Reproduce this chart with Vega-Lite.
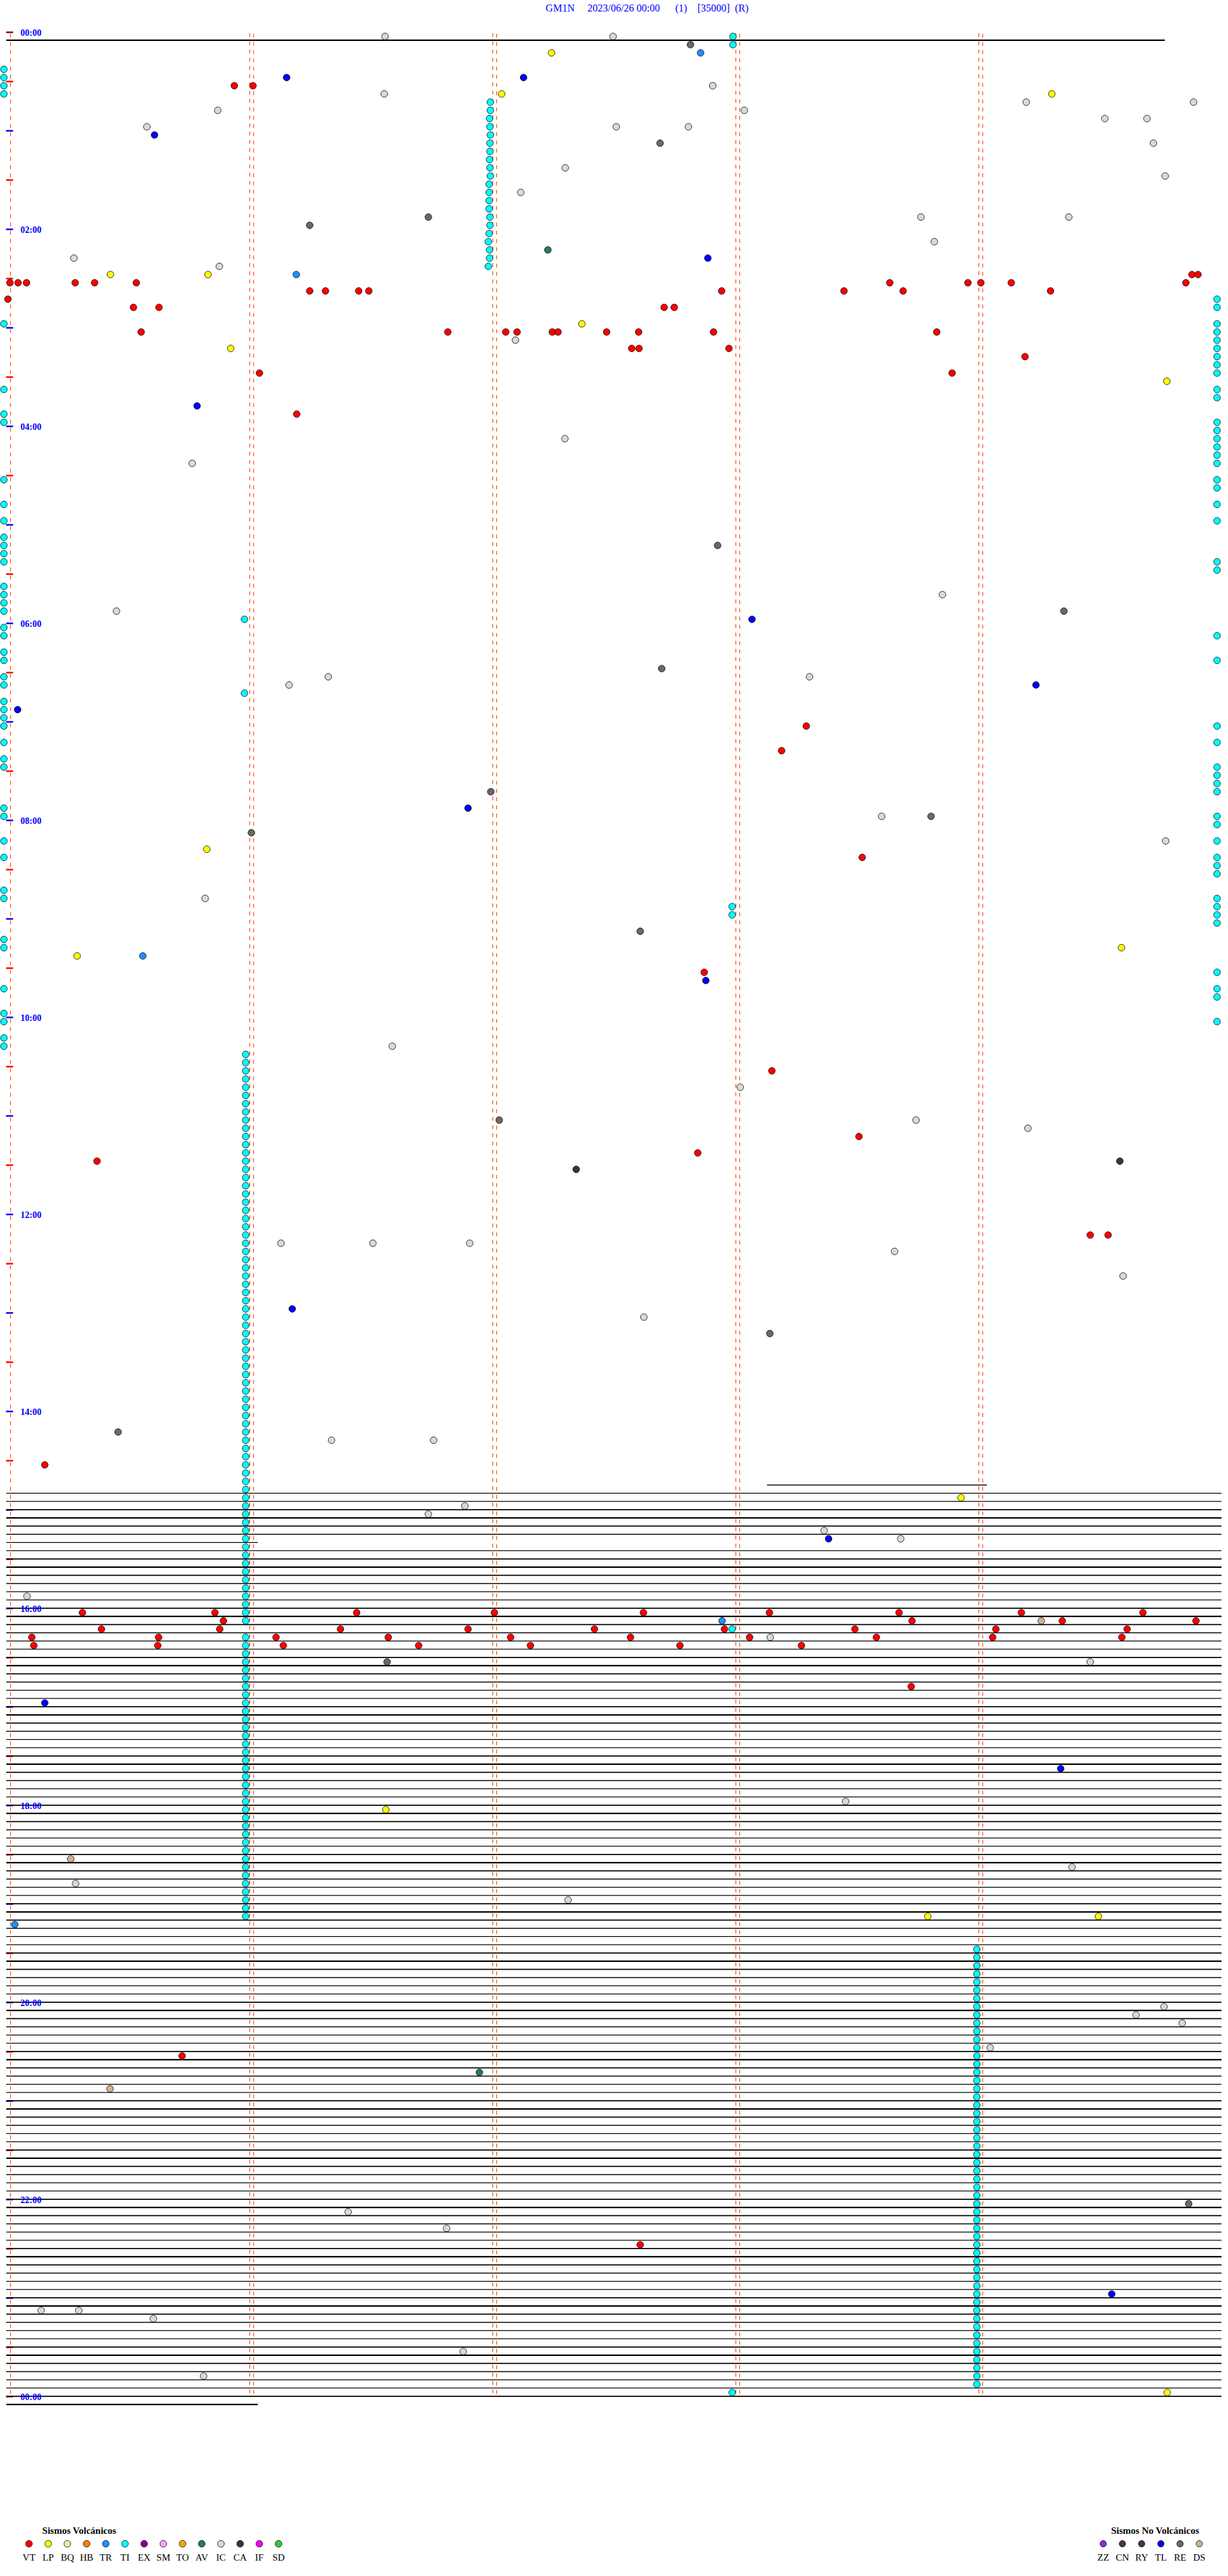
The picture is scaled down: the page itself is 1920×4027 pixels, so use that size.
{
"$schema": "https://vega.github.io/schema/vega-lite/v6.json",
"autosize": "none",
"width": 1900,
"height": 3696,
"padding": {"left": 13, "top": 50, "right": 7, "bottom": 281},
"background": "white",
"config": {"view": {"stroke": null}},
"datasets": {
"tr": [
{"r":1,"a":-0.5,"b":285.5,"k":"k"},
{"r":177,"a":187.3,"b":241.6,"k":"t"},
{"r":178,"a":-0.5,"b":299.5,"k":"t"},{"r":179,"a":-0.5,"b":299.5,"k":"t"},{"r":180,"a":-0.5,"b":299.5,"k":"n"},{"r":181,"a":-0.5,"b":299.5,"k":"k"},{"r":182,"a":-0.5,"b":299.5,"k":"n"},{"r":183,"a":-0.5,"b":299.5,"k":"t"},
{"r":184,"a":-0.5,"b":61.6,"k":"t"},{"r":185,"a":-0.5,"b":299.5,"k":"t"},{"r":186,"a":-0.5,"b":299.5,"k":"n"},{"r":187,"a":-0.5,"b":299.5,"k":"k"},{"r":188,"a":-0.5,"b":299.5,"k":"n"},{"r":189,"a":-0.5,"b":299.5,"k":"t"},
{"r":190,"a":-0.5,"b":299.5,"k":"t"},{"r":191,"a":-0.5,"b":299.5,"k":"t"},{"r":192,"a":-0.5,"b":299.5,"k":"n"},{"r":193,"a":-0.5,"b":299.5,"k":"k"},{"r":194,"a":-0.5,"b":299.5,"k":"n"},{"r":195,"a":-0.5,"b":299.5,"k":"t"},
{"r":196,"a":-0.5,"b":299.5,"k":"t"},{"r":197,"a":-0.5,"b":299.5,"k":"t"},{"r":198,"a":-0.5,"b":299.5,"k":"n"},{"r":199,"a":-0.5,"b":299.5,"k":"k"},{"r":200,"a":-0.5,"b":299.5,"k":"n"},{"r":201,"a":-0.5,"b":299.5,"k":"t"},
{"r":202,"a":-0.5,"b":299.5,"k":"t"},{"r":203,"a":-0.5,"b":299.5,"k":"t"},{"r":204,"a":-0.5,"b":299.5,"k":"n"},{"r":205,"a":-0.5,"b":299.5,"k":"k"},{"r":206,"a":-0.5,"b":299.5,"k":"n"},{"r":207,"a":-0.5,"b":299.5,"k":"t"},
{"r":208,"a":-0.5,"b":299.5,"k":"t"},{"r":209,"a":-0.5,"b":299.5,"k":"t"},{"r":210,"a":-0.5,"b":299.5,"k":"n"},{"r":211,"a":-0.5,"b":299.5,"k":"k"},{"r":212,"a":-0.5,"b":299.5,"k":"n"},{"r":213,"a":-0.5,"b":299.5,"k":"t"},
{"r":214,"a":-0.5,"b":299.5,"k":"t"},{"r":215,"a":-0.5,"b":299.5,"k":"t"},{"r":216,"a":-0.5,"b":299.5,"k":"n"},{"r":217,"a":-0.5,"b":299.5,"k":"k"},{"r":218,"a":-0.5,"b":299.5,"k":"n"},{"r":219,"a":-0.5,"b":299.5,"k":"t"},
{"r":220,"a":-0.5,"b":299.5,"k":"t"},{"r":221,"a":-0.5,"b":299.5,"k":"t"},{"r":222,"a":-0.5,"b":299.5,"k":"n"},{"r":223,"a":-0.5,"b":299.5,"k":"k"},{"r":224,"a":-0.5,"b":299.5,"k":"n"},{"r":225,"a":-0.5,"b":299.5,"k":"t"},
{"r":226,"a":-0.5,"b":299.5,"k":"t"},{"r":227,"a":-0.5,"b":299.5,"k":"t"},{"r":228,"a":-0.5,"b":299.5,"k":"n"},{"r":229,"a":-0.5,"b":299.5,"k":"k"},{"r":230,"a":-0.5,"b":299.5,"k":"n"},{"r":231,"a":-0.5,"b":299.5,"k":"t"},
{"r":232,"a":-0.5,"b":299.5,"k":"t"},{"r":233,"a":-0.5,"b":299.5,"k":"t"},{"r":234,"a":-0.5,"b":299.5,"k":"n"},{"r":235,"a":-0.5,"b":299.5,"k":"k"},{"r":236,"a":-0.5,"b":299.5,"k":"n"},{"r":237,"a":-0.5,"b":299.5,"k":"t"},
{"r":238,"a":-0.5,"b":299.5,"k":"t"},{"r":239,"a":-0.5,"b":299.5,"k":"t"},{"r":240,"a":-0.5,"b":299.5,"k":"n"},{"r":241,"a":-0.5,"b":299.5,"k":"k"},{"r":242,"a":-0.5,"b":299.5,"k":"n"},{"r":243,"a":-0.5,"b":299.5,"k":"t"},
{"r":244,"a":-0.5,"b":299.5,"k":"t"},{"r":245,"a":-0.5,"b":299.5,"k":"t"},{"r":246,"a":-0.5,"b":299.5,"k":"n"},{"r":247,"a":-0.5,"b":299.5,"k":"k"},{"r":248,"a":-0.5,"b":299.5,"k":"n"},{"r":249,"a":-0.5,"b":299.5,"k":"t"},
{"r":250,"a":-0.5,"b":299.5,"k":"t"},{"r":251,"a":-0.5,"b":299.5,"k":"t"},{"r":252,"a":-0.5,"b":299.5,"k":"n"},{"r":253,"a":-0.5,"b":299.5,"k":"k"},{"r":254,"a":-0.5,"b":299.5,"k":"n"},{"r":255,"a":-0.5,"b":299.5,"k":"t"},
{"r":256,"a":-0.5,"b":299.5,"k":"t"},{"r":257,"a":-0.5,"b":299.5,"k":"t"},{"r":258,"a":-0.5,"b":299.5,"k":"n"},{"r":259,"a":-0.5,"b":299.5,"k":"k"},{"r":260,"a":-0.5,"b":299.5,"k":"n"},{"r":261,"a":-0.5,"b":299.5,"k":"t"},
{"r":262,"a":-0.5,"b":299.5,"k":"t"},{"r":263,"a":-0.5,"b":299.5,"k":"t"},{"r":264,"a":-0.5,"b":299.5,"k":"n"},{"r":265,"a":-0.5,"b":299.5,"k":"k"},{"r":266,"a":-0.5,"b":299.5,"k":"n"},{"r":267,"a":-0.5,"b":299.5,"k":"t"},
{"r":268,"a":-0.5,"b":299.5,"k":"t"},{"r":269,"a":-0.5,"b":299.5,"k":"t"},{"r":270,"a":-0.5,"b":299.5,"k":"n"},{"r":271,"a":-0.5,"b":299.5,"k":"k"},{"r":272,"a":-0.5,"b":299.5,"k":"n"},{"r":273,"a":-0.5,"b":299.5,"k":"t"},
{"r":274,"a":-0.5,"b":299.5,"k":"t"},{"r":275,"a":-0.5,"b":299.5,"k":"t"},{"r":276,"a":-0.5,"b":299.5,"k":"n"},{"r":277,"a":-0.5,"b":299.5,"k":"k"},{"r":278,"a":-0.5,"b":299.5,"k":"n"},{"r":279,"a":-0.5,"b":299.5,"k":"t"},
{"r":280,"a":-0.5,"b":299.5,"k":"t"},{"r":281,"a":-0.5,"b":299.5,"k":"t"},{"r":282,"a":-0.5,"b":299.5,"k":"n"},{"r":283,"a":-0.5,"b":299.5,"k":"k"},{"r":284,"a":-0.5,"b":299.5,"k":"n"},{"r":285,"a":-0.5,"b":299.5,"k":"t"},
{"r":286,"a":-0.5,"b":299.5,"k":"t"},{"r":287,"a":-0.5,"b":299.5,"k":"t"},{"r":288,"a":-0.5,"b":299.5,"k":"n"},{"r":289,"a":-0.5,"b":61.6,"k":"k"}
],
"ev": [
{"r":0,"s":93.0,"t":"IC"},{"r":0,"s":149.3,"t":"IC"},{"r":0,"s":178.9,"t":"TI"},{"r":1,"s":178.9,"t":"TI"},{"r":1,"s":168.4,"t":"RE"},
{"r":2,"s":170.9,"t":"TR"},{"r":2,"s":134.1,"t":"LP"},
{"r":4,"s":-1.1,"t":"TI"},{"r":5,"s":-1.1,"t":"TI"},{"r":6,"s":-1.1,"t":"TI"},{"r":7,"s":-1.1,"t":"TI"},
{"r":5,"s":68.7,"t":"TL"},{"r":5,"s":127.2,"t":"TL"},{"r":6,"s":55.8,"t":"VT"},{"r":6,"s":60.4,"t":"VT"},{"r":6,"s":173.9,"t":"IC"},
{"r":7,"s":92.8,"t":"IC"},{"r":7,"s":121.8,"t":"LP"},{"r":7,"s":257.6,"t":"LP"},
{"r":8,"s":119.0,"t":"TI"},{"r":9,"s":119.0,"t":"TI"},{"r":10,"s":118.8,"t":"TI"},{"r":11,"s":118.9,"t":"TI"},{"r":12,"s":119.0,"t":"TI"},{"r":13,"s":118.9,"t":"TI"},{"r":14,"s":118.9,"t":"TI"},
{"r":15,"s":118.8,"t":"TI"},{"r":16,"s":118.9,"t":"TI"},{"r":17,"s":119.0,"t":"TI"},{"r":18,"s":118.7,"t":"TI"},{"r":19,"s":118.7,"t":"TI"},{"r":20,"s":118.7,"t":"TI"},{"r":21,"s":118.7,"t":"TI"},
{"r":22,"s":118.9,"t":"TI"},{"r":23,"s":118.9,"t":"TI"},{"r":24,"s":118.7,"t":"TI"},{"r":25,"s":118.5,"t":"TI"},{"r":26,"s":118.8,"t":"TI"},{"r":27,"s":118.8,"t":"TI"},{"r":28,"s":118.5,"t":"TI"},
{"r":8,"s":251.3,"t":"IC"},{"r":8,"s":292.6,"t":"IC"},{"r":9,"s":51.7,"t":"IC"},{"r":9,"s":181.7,"t":"IC"},{"r":10,"s":270.7,"t":"IC"},{"r":10,"s":281.1,"t":"IC"},
{"r":11,"s":34.2,"t":"IC"},{"r":11,"s":150.1,"t":"IC"},{"r":11,"s":167.9,"t":"IC"},{"r":12,"s":36.1,"t":"TL"},{"r":13,"s":160.9,"t":"RE"},{"r":13,"s":282.7,"t":"IC"},
{"r":16,"s":137.5,"t":"IC"},{"r":17,"s":285.6,"t":"IC"},{"r":19,"s":126.5,"t":"IC"},{"r":22,"s":103.7,"t":"RE"},{"r":22,"s":225.3,"t":"IC"},{"r":22,"s":261.8,"t":"IC"},
{"r":23,"s":74.4,"t":"RE"},{"r":25,"s":228.6,"t":"IC"},{"r":26,"s":133.2,"t":"AV"},{"r":27,"s":16.2,"t":"IC"},{"r":27,"s":172.7,"t":"TL"},{"r":28,"s":52.1,"t":"IC"},
{"r":29,"s":25.2,"t":"LP"},{"r":29,"s":49.3,"t":"LP"},{"r":29,"s":71.1,"t":"TR"},{"r":29,"s":292.2,"t":"VT"},{"r":29,"s":293.7,"t":"VT"},
{"r":30,"s":0.4,"t":"VT"},{"r":30,"s":2.4,"t":"VT"},{"r":30,"s":4.5,"t":"VT"},{"r":30,"s":16.5,"t":"VT"},{"r":30,"s":21.3,"t":"VT"},{"r":30,"s":31.6,"t":"VT"},
{"r":30,"s":217.6,"t":"VT"},{"r":30,"s":236.9,"t":"VT"},{"r":30,"s":240.1,"t":"VT"},{"r":30,"s":247.6,"t":"VT"},{"r":30,"s":290.7,"t":"VT"},
{"r":31,"s":74.4,"t":"VT"},{"r":31,"s":78.3,"t":"VT"},{"r":31,"s":86.5,"t":"VT"},{"r":31,"s":89.0,"t":"VT"},{"r":31,"s":176.1,"t":"VT"},{"r":31,"s":206.3,"t":"VT"},{"r":31,"s":220.9,"t":"VT"},{"r":31,"s":257.3,"t":"VT"},
{"r":32,"s":-0.1,"t":"VT"},
{"r":33,"s":30.9,"t":"VT"},{"r":33,"s":37.2,"t":"VT"},{"r":33,"s":161.9,"t":"VT"},{"r":33,"s":164.4,"t":"VT"},
{"r":35,"s":141.6,"t":"LP"},
{"r":36,"s":32.8,"t":"VT"},{"r":36,"s":108.5,"t":"VT"},{"r":36,"s":122.8,"t":"VT"},{"r":36,"s":125.6,"t":"VT"},{"r":36,"s":134.3,"t":"VT"},{"r":36,"s":135.7,"t":"VT"},{"r":36,"s":147.7,"t":"VT"},{"r":36,"s":155.6,"t":"VT"},{"r":36,"s":174.1,"t":"VT"},{"r":36,"s":229.2,"t":"VT"},
{"r":37,"s":125.2,"t":"IC"},
{"r":38,"s":54.9,"t":"LP"},{"r":38,"s":153.9,"t":"VT"},{"r":38,"s":155.7,"t":"VT"},{"r":38,"s":177.9,"t":"VT"},
{"r":39,"s":251.0,"t":"VT"},{"r":41,"s":62.0,"t":"VT"},{"r":41,"s":233.0,"t":"VT"},{"r":42,"s":286.0,"t":"LP"},{"r":45,"s":46.6,"t":"TL"},{"r":46,"s":71.2,"t":"VT"},
{"r":49,"s":137.4,"t":"IC"},{"r":52,"s":45.4,"t":"IC"},{"r":62,"s":175.1,"t":"RE"},{"r":68,"s":230.6,"t":"IC"},{"r":70,"s":26.7,"t":"IC"},{"r":71,"s":58.3,"t":"TI"},{"r":71,"s":183.6,"t":"TL"},
{"r":70,"s":260.6,"t":"RE"},{"r":77,"s":161.3,"t":"RE"},{"r":78,"s":79.0,"t":"IC"},{"r":79,"s":69.3,"t":"IC"},{"r":78,"s":197.8,"t":"IC"},{"r":79,"s":253.7,"t":"TL"},{"r":80,"s":58.3,"t":"TI"},
{"r":84,"s":197.0,"t":"VT"},{"r":87,"s":190.9,"t":"VT"},{"r":92,"s":119.1,"t":"RE"},{"r":94,"s":113.5,"t":"TL"},{"r":95,"s":215.6,"t":"IC"},{"r":95,"s":227.8,"t":"RE"},
{"r":97,"s":60.0,"t":"RE"},{"r":99,"s":49.0,"t":"LP"},{"r":98,"s":285.7,"t":"IC"},{"r":100,"s":210.8,"t":"VT"},{"r":105,"s":48.6,"t":"IC"},{"r":106,"s":178.7,"t":"TI"},{"r":107,"s":178.7,"t":"TI"},
{"r":109,"s":156.0,"t":"RE"},{"r":112,"s":17.0,"t":"LP"},{"r":112,"s":33.2,"t":"TR"},{"r":111,"s":274.8,"t":"LP"},{"r":114,"s":171.8,"t":"VT"},{"r":115,"s":172.2,"t":"TL"},{"r":123,"s":94.8,"t":"IC"},
{"r":126,"s":188.5,"t":"VT"},{"r":128,"s":180.7,"t":"IC"},{"r":132,"s":121.2,"t":"RE"},{"r":132,"s":224.1,"t":"IC"},{"r":133,"s":251.7,"t":"IC"},{"r":134,"s":210.0,"t":"VT"},
{"r":137,"s":274.4,"t":"CA"},{"r":137,"s":21.9,"t":"VT"},{"r":138,"s":140.2,"t":"CA"},{"r":136,"s":170.2,"t":"VT"},{"r":146,"s":267.1,"t":"VT"},{"r":146,"s":271.5,"t":"VT"},
{"r":147,"s":67.3,"t":"IC"},{"r":147,"s":90.0,"t":"IC"},{"r":147,"s":113.9,"t":"IC"},{"r":148,"s":218.8,"t":"IC"},{"r":151,"s":275.2,"t":"IC"},{"r":155,"s":70.1,"t":"TL"},
{"r":156,"s":156.9,"t":"IC"},{"r":158,"s":188.0,"t":"RE"},{"r":170,"s":27.1,"t":"RE"},{"r":171,"s":79.8,"t":"IC"},{"r":171,"s":105.0,"t":"IC"},{"r":174,"s":9.0,"t":"VT"},
{"r":178,"s":235.2,"t":"LP"},{"r":179,"s":112.7,"t":"IC"},{"r":180,"s":103.7,"t":"IC"},{"r":182,"s":201.4,"t":"IC"},{"r":183,"s":202.5,"t":"TL"},{"r":183,"s":220.3,"t":"IC"},{"r":190,"s":4.6,"t":"IC"},
{"r":192,"s":18.3,"t":"VT"},{"r":192,"s":51.0,"t":"VT"},{"r":192,"s":86.0,"t":"VT"},{"r":192,"s":120.0,"t":"VT"},{"r":192,"s":156.8,"t":"VT"},{"r":192,"s":187.9,"t":"VT"},{"r":192,"s":219.9,"t":"VT"},{"r":192,"s":250.1,"t":"VT"},{"r":192,"s":280.1,"t":"VT"},
{"r":193,"s":53.1,"t":"VT"},{"r":193,"s":176.2,"t":"TR"},{"r":193,"s":223.1,"t":"VT"},{"r":193,"s":255.0,"t":"DS"},{"r":193,"s":260.2,"t":"VT"},{"r":193,"s":293.2,"t":"VT"},
{"r":194,"s":23.0,"t":"VT"},{"r":194,"s":52.2,"t":"VT"},{"r":194,"s":82.0,"t":"VT"},{"r":194,"s":113.5,"t":"VT"},{"r":194,"s":144.7,"t":"VT"},{"r":194,"s":176.8,"t":"VT"},{"r":194,"s":178.7,"t":"TI"},{"r":194,"s":209.0,"t":"VT"},{"r":194,"s":243.8,"t":"VT"},{"r":194,"s":276.2,"t":"VT"},
{"r":195,"s":5.8,"t":"VT"},{"r":195,"s":37.1,"t":"VT"},{"r":195,"s":66.1,"t":"VT"},{"r":195,"s":93.8,"t":"VT"},{"r":195,"s":124.0,"t":"VT"},{"r":195,"s":153.6,"t":"VT"},{"r":195,"s":183.0,"t":"VT"},{"r":195,"s":188.1,"t":"IC"},{"r":195,"s":214.3,"t":"VT"},{"r":195,"s":243.0,"t":"VT"},{"r":195,"s":274.9,"t":"VT"},
{"r":196,"s":6.3,"t":"VT"},{"r":196,"s":36.9,"t":"VT"},{"r":196,"s":67.9,"t":"VT"},{"r":196,"s":101.3,"t":"VT"},{"r":196,"s":128.9,"t":"VT"},{"r":196,"s":165.8,"t":"VT"},{"r":196,"s":195.8,"t":"VT"},
{"r":198,"s":93.5,"t":"RE"},{"r":198,"s":267.1,"t":"IC"},{"r":201,"s":222.9,"t":"VT"},{"r":203,"s":9.0,"t":"TL"},{"r":211,"s":259.8,"t":"TL"},{"r":216,"s":93.2,"t":"LP"},{"r":215,"s":206.7,"t":"IC"},
{"r":222,"s":15.4,"t":"DS"},{"r":225,"s":16.6,"t":"IC"},{"r":223,"s":262.6,"t":"IC"},{"r":227,"s":138.2,"t":"IC"},{"r":230,"s":1.6,"t":"TR"},{"r":229,"s":227.0,"t":"LP"},{"r":229,"s":269.1,"t":"LP"},
{"r":245,"s":242.4,"t":"IC"},{"r":240,"s":285.3,"t":"IC"},{"r":241,"s":278.4,"t":"IC"},{"r":242,"s":289.8,"t":"IC"},{"r":246,"s":42.9,"t":"VT"},{"r":248,"s":116.3,"t":"AV"},{"r":250,"s":25.1,"t":"DS"},
{"r":264,"s":291.4,"t":"RE"},{"r":265,"s":83.9,"t":"IC"},{"r":267,"s":108.2,"t":"IC"},{"r":269,"s":156.0,"t":"VT"},{"r":275,"s":272.4,"t":"TL"},{"r":277,"s":8.1,"t":"IC"},{"r":277,"s":17.4,"t":"IC"},
{"r":278,"s":35.8,"t":"IC"},{"r":282,"s":112.3,"t":"IC"},{"r":285,"s":48.2,"t":"IC"},{"r":287,"s":178.7,"t":"TI"},{"r":287,"s":286.1,"t":"LP"},
{"r":35,"s":-1.1,"t":"TI"},{"r":43,"s":-1.1,"t":"TI"},{"r":46,"s":-1.1,"t":"TI"},{"r":47,"s":-1.1,"t":"TI"},{"r":54,"s":-1.1,"t":"TI"},{"r":57,"s":-1.1,"t":"TI"},{"r":59,"s":-1.1,"t":"TI"},
{"r":61,"s":-1.1,"t":"TI"},{"r":62,"s":-1.1,"t":"TI"},{"r":63,"s":-1.1,"t":"TI"},{"r":64,"s":-1.1,"t":"TI"},{"r":67,"s":-1.1,"t":"TI"},{"r":68,"s":-1.1,"t":"TI"},{"r":69,"s":-1.1,"t":"TI"},
{"r":70,"s":-1.1,"t":"TI"},{"r":72,"s":-1.1,"t":"TI"},{"r":73,"s":-1.1,"t":"TI"},{"r":75,"s":-1.1,"t":"TI"},{"r":76,"s":-1.1,"t":"TI"},{"r":78,"s":-1.1,"t":"TI"},{"r":79,"s":-1.1,"t":"TI"},
{"r":81,"s":-1.1,"t":"TI"},{"r":82,"s":-1.1,"t":"TI"},{"r":83,"s":-1.1,"t":"TI"},{"r":84,"s":-1.1,"t":"TI"},{"r":86,"s":-1.1,"t":"TI"},{"r":88,"s":-1.1,"t":"TI"},{"r":89,"s":-1.1,"t":"TI"},
{"r":94,"s":-1.1,"t":"TI"},{"r":95,"s":-1.1,"t":"TI"},{"r":98,"s":-1.1,"t":"TI"},{"r":100,"s":-1.1,"t":"TI"},{"r":104,"s":-1.1,"t":"TI"},{"r":105,"s":-1.1,"t":"TI"},{"r":110,"s":-1.1,"t":"TI"},
{"r":111,"s":-1.1,"t":"TI"},{"r":116,"s":-1.1,"t":"TI"},{"r":119,"s":-1.1,"t":"TI"},{"r":120,"s":-1.1,"t":"TI"},{"r":122,"s":-1.1,"t":"TI"},{"r":123,"s":-1.1,"t":"TI"},
{"r":82,"s":2.3,"t":"TL"},
{"r":32,"s":298.4,"t":"TI"},{"r":33,"s":298.4,"t":"TI"},{"r":35,"s":298.4,"t":"TI"},{"r":36,"s":298.4,"t":"TI"},{"r":37,"s":298.4,"t":"TI"},{"r":38,"s":298.4,"t":"TI"},{"r":39,"s":298.4,"t":"TI"},
{"r":40,"s":298.4,"t":"TI"},{"r":41,"s":298.4,"t":"TI"},{"r":43,"s":298.4,"t":"TI"},{"r":44,"s":298.4,"t":"TI"},{"r":47,"s":298.4,"t":"TI"},{"r":48,"s":298.4,"t":"TI"},{"r":49,"s":298.4,"t":"TI"},
{"r":50,"s":298.4,"t":"TI"},{"r":51,"s":298.4,"t":"TI"},{"r":52,"s":298.4,"t":"TI"},{"r":54,"s":298.4,"t":"TI"},{"r":55,"s":298.4,"t":"TI"},{"r":57,"s":298.4,"t":"TI"},{"r":59,"s":298.4,"t":"TI"},
{"r":64,"s":298.4,"t":"TI"},{"r":65,"s":298.4,"t":"TI"},{"r":73,"s":298.4,"t":"TI"},{"r":76,"s":298.4,"t":"TI"},{"r":84,"s":298.4,"t":"TI"},{"r":86,"s":298.4,"t":"TI"},{"r":89,"s":298.4,"t":"TI"},
{"r":90,"s":298.4,"t":"TI"},{"r":91,"s":298.4,"t":"TI"},{"r":92,"s":298.4,"t":"TI"},{"r":95,"s":298.4,"t":"TI"},{"r":96,"s":298.4,"t":"TI"},{"r":98,"s":298.4,"t":"TI"},{"r":100,"s":298.4,"t":"TI"},
{"r":101,"s":298.4,"t":"TI"},{"r":102,"s":298.4,"t":"TI"},{"r":105,"s":298.4,"t":"TI"},{"r":106,"s":298.4,"t":"TI"},{"r":107,"s":298.4,"t":"TI"},{"r":108,"s":298.4,"t":"TI"},{"r":114,"s":298.4,"t":"TI"},
{"r":116,"s":298.4,"t":"TI"},{"r":117,"s":298.4,"t":"TI"},{"r":120,"s":298.4,"t":"TI"},
{"r":124,"s":58.6,"t":"TI"},{"r":125,"s":58.6,"t":"TI"},{"r":126,"s":58.6,"t":"TI"},{"r":127,"s":58.6,"t":"TI"},{"r":128,"s":58.6,"t":"TI"},{"r":129,"s":58.6,"t":"TI"},{"r":130,"s":58.6,"t":"TI"},
{"r":131,"s":58.6,"t":"TI"},{"r":132,"s":58.6,"t":"TI"},{"r":133,"s":58.6,"t":"TI"},{"r":134,"s":58.6,"t":"TI"},{"r":135,"s":58.6,"t":"TI"},{"r":136,"s":58.6,"t":"TI"},{"r":137,"s":58.6,"t":"TI"},
{"r":138,"s":58.6,"t":"TI"},{"r":139,"s":58.6,"t":"TI"},{"r":140,"s":58.6,"t":"TI"},{"r":141,"s":58.6,"t":"TI"},{"r":142,"s":58.6,"t":"TI"},{"r":143,"s":58.6,"t":"TI"},{"r":144,"s":58.6,"t":"TI"},
{"r":145,"s":58.6,"t":"TI"},{"r":146,"s":58.6,"t":"TI"},{"r":147,"s":58.6,"t":"TI"},{"r":148,"s":58.6,"t":"TI"},{"r":149,"s":58.6,"t":"TI"},{"r":150,"s":58.6,"t":"TI"},{"r":151,"s":58.6,"t":"TI"},
{"r":152,"s":58.6,"t":"TI"},{"r":153,"s":58.6,"t":"TI"},{"r":154,"s":58.6,"t":"TI"},{"r":155,"s":58.6,"t":"TI"},{"r":156,"s":58.6,"t":"TI"},{"r":157,"s":58.6,"t":"TI"},{"r":158,"s":58.6,"t":"TI"},
{"r":159,"s":58.6,"t":"TI"},{"r":160,"s":58.6,"t":"TI"},{"r":161,"s":58.6,"t":"TI"},{"r":162,"s":58.6,"t":"TI"},{"r":163,"s":58.6,"t":"TI"},{"r":164,"s":58.6,"t":"TI"},{"r":165,"s":58.6,"t":"TI"},
{"r":166,"s":58.6,"t":"TI"},{"r":167,"s":58.6,"t":"TI"},{"r":168,"s":58.6,"t":"TI"},{"r":169,"s":58.6,"t":"TI"},{"r":170,"s":58.6,"t":"TI"},{"r":171,"s":58.6,"t":"TI"},{"r":172,"s":58.6,"t":"TI"},
{"r":173,"s":58.6,"t":"TI"},{"r":174,"s":58.6,"t":"TI"},{"r":175,"s":58.6,"t":"TI"},{"r":176,"s":58.6,"t":"TI"},{"r":177,"s":58.6,"t":"TI"},{"r":178,"s":58.6,"t":"TI"},{"r":179,"s":58.6,"t":"TI"},
{"r":180,"s":58.6,"t":"TI"},{"r":181,"s":58.6,"t":"TI"},{"r":182,"s":58.6,"t":"TI"},{"r":183,"s":58.6,"t":"TI"},{"r":184,"s":58.6,"t":"TI"},{"r":185,"s":58.6,"t":"TI"},{"r":186,"s":58.6,"t":"TI"},
{"r":187,"s":58.6,"t":"TI"},{"r":188,"s":58.6,"t":"TI"},{"r":189,"s":58.6,"t":"TI"},{"r":190,"s":58.6,"t":"TI"},{"r":191,"s":58.6,"t":"TI"},{"r":192,"s":58.6,"t":"TI"},{"r":193,"s":58.6,"t":"TI"},
{"r":195,"s":58.6,"t":"TI"},{"r":196,"s":58.6,"t":"TI"},{"r":197,"s":58.6,"t":"TI"},{"r":198,"s":58.6,"t":"TI"},{"r":199,"s":58.6,"t":"TI"},{"r":200,"s":58.6,"t":"TI"},{"r":201,"s":58.6,"t":"TI"},
{"r":202,"s":58.6,"t":"TI"},{"r":203,"s":58.6,"t":"TI"},{"r":204,"s":58.6,"t":"TI"},{"r":205,"s":58.6,"t":"TI"},{"r":206,"s":58.6,"t":"TI"},{"r":207,"s":58.6,"t":"TI"},{"r":208,"s":58.6,"t":"TI"},
{"r":209,"s":58.6,"t":"TI"},{"r":210,"s":58.6,"t":"TI"},{"r":211,"s":58.6,"t":"TI"},{"r":212,"s":58.6,"t":"TI"},{"r":213,"s":58.6,"t":"TI"},{"r":214,"s":58.6,"t":"TI"},{"r":215,"s":58.6,"t":"TI"},
{"r":216,"s":58.6,"t":"TI"},{"r":217,"s":58.6,"t":"TI"},{"r":218,"s":58.6,"t":"TI"},{"r":219,"s":58.6,"t":"TI"},{"r":220,"s":58.6,"t":"TI"},{"r":221,"s":58.6,"t":"TI"},{"r":222,"s":58.6,"t":"TI"},
{"r":223,"s":58.6,"t":"TI"},{"r":224,"s":58.6,"t":"TI"},{"r":225,"s":58.6,"t":"TI"},{"r":226,"s":58.6,"t":"TI"},{"r":227,"s":58.6,"t":"TI"},{"r":228,"s":58.6,"t":"TI"},{"r":229,"s":58.6,"t":"TI"},
{"r":233,"s":239.1,"t":"TI"},{"r":234,"s":239.1,"t":"TI"},{"r":235,"s":239.1,"t":"TI"},{"r":236,"s":239.1,"t":"TI"},{"r":237,"s":239.1,"t":"TI"},{"r":238,"s":239.1,"t":"TI"},{"r":239,"s":239.1,"t":"TI"},
{"r":240,"s":239.1,"t":"TI"},{"r":241,"s":239.1,"t":"TI"},{"r":242,"s":239.1,"t":"TI"},{"r":243,"s":239.1,"t":"TI"},{"r":244,"s":239.1,"t":"TI"},{"r":245,"s":239.1,"t":"TI"},{"r":246,"s":239.1,"t":"TI"},
{"r":247,"s":239.1,"t":"TI"},{"r":248,"s":239.1,"t":"TI"},{"r":249,"s":239.1,"t":"TI"},{"r":250,"s":239.1,"t":"TI"},{"r":251,"s":239.1,"t":"TI"},{"r":252,"s":239.1,"t":"TI"},{"r":253,"s":239.1,"t":"TI"},
{"r":254,"s":239.1,"t":"TI"},{"r":255,"s":239.1,"t":"TI"},{"r":256,"s":239.1,"t":"TI"},{"r":257,"s":239.1,"t":"TI"},{"r":258,"s":239.1,"t":"TI"},{"r":259,"s":239.1,"t":"TI"},{"r":260,"s":239.1,"t":"TI"},
{"r":261,"s":239.1,"t":"TI"},{"r":262,"s":239.1,"t":"TI"},{"r":263,"s":239.1,"t":"TI"},{"r":264,"s":239.1,"t":"TI"},{"r":265,"s":239.1,"t":"TI"},{"r":266,"s":239.1,"t":"TI"},{"r":267,"s":239.1,"t":"TI"},
{"r":268,"s":239.1,"t":"TI"},{"r":269,"s":239.1,"t":"TI"},{"r":270,"s":239.1,"t":"TI"},{"r":271,"s":239.1,"t":"TI"},{"r":272,"s":239.1,"t":"TI"},{"r":273,"s":239.1,"t":"TI"},{"r":274,"s":239.1,"t":"TI"},
{"r":275,"s":239.1,"t":"TI"},{"r":276,"s":239.1,"t":"TI"},{"r":277,"s":239.1,"t":"TI"},{"r":278,"s":239.1,"t":"TI"},{"r":279,"s":239.1,"t":"TI"},{"r":280,"s":239.1,"t":"TI"},{"r":281,"s":239.1,"t":"TI"},
{"r":282,"s":239.1,"t":"TI"},{"r":283,"s":239.1,"t":"TI"},{"r":284,"s":239.1,"t":"TI"},{"r":285,"s":239.1,"t":"TI"},{"r":286,"s":239.1,"t":"TI"}
],
"hl": [
{"r":0,"l":"00:00"},{"r":24,"l":"02:00"},{"r":48,"l":"04:00"},{"r":72,"l":"06:00"},{"r":96,"l":"08:00"},{"r":120,"l":"10:00"},{"r":144,"l":"12:00"},
{"r":168,"l":"14:00"},{"r":192,"l":"16:00"},{"r":216,"l":"18:00"},{"r":240,"l":"20:00"},{"r":264,"l":"22:00"},{"r":288,"l":"00:00"}
],
"legV": [{"c":"VT"},{"c":"LP"},{"c":"BQ"},{"c":"HB"},{"c":"TR"},{"c":"TI"},{"c":"EX"},{"c":"SM"},{"c":"TO"},{"c":"AV"},{"c":"IC"},{"c":"CA"},{"c":"IF"},{"c":"SD"}],
"legN": [{"c":"ZZ"},{"c":"CN"},{"c":"RY"},{"c":"TL"},{"c":"RE"},{"c":"DS"}]
},
"layer": [
{
"resolve": {"axis": {"x": "independent"}},
"layer": [
{
"data": {"name": "tr"},
"mark": {"type": "rule", "color": "#000000"},
"encoding": {
"x": {"field": "a", "type": "quantitative", "scale": {"domain": [0, 300], "nice": false, "zero": false},
"axis": {"orient": "top", "values": [-0.4, 59.6, 119.6, 179.6, 239.6], "grid": true, "gridColor": "#FF4500", "gridDash": [6, 6.834], "gridDashOffset": -1.3, "gridWidth": 1.2, "gridOpacity": 1, "domain": false, "ticks": false, "labels": false, "title": null}},
"x2": {"field": "b"},
"y": {"field": "r", "type": "quantitative", "scale": {"domain": [0, 288], "reverse": true, "nice": false, "zero": false},
"axis": {"orient": "left", "values": [0,6,12,18,24,30,36,42,48,54,60,66,72,78,84,90,96,102,108,114,120,126,132,138,144,150,156,162,168,174,180,186,192,198,204,210,216,222,228,234,240,246,252,258,264,270,276,282,288],
"offset": -7, "tickSize": 11, "tickWidth": 2.5,
"tickColor": {"condition": [{"test": "datum.value % 288 === 0", "value": "#8B0000"}, {"test": "datum.value % 12 === 0", "value": "#0000FF"}], "value": "#FF0000"},
"domain": false, "labels": false, "grid": false, "title": null}},
"strokeWidth": {"field": "k", "type": "nominal", "scale": {"domain": ["t", "n", "k"], "range": [1.3, 2.2, 3]}, "legend": null}
}
},
{
"data": {"name": "hl"},
"mark": {"type": "text", "align": "left", "baseline": "middle", "font": "Liberation Serif", "fontSize": 14, "fontWeight": "bold", "color": "#0000FF", "yOffset": 2},
"encoding": {
"x": {"datum": 3.0, "type": "quantitative", "scale": {"domain": [0, 300], "nice": false, "zero": false}, "axis": null},
"y": {"field": "r", "type": "quantitative", "scale": {"domain": [0, 288], "reverse": true, "nice": false, "zero": false}},
"text": {"field": "l"}
}
},
{
"data": {"name": "ev"},
"mark": {"type": "point", "shape": "circle", "filled": true, "size": 110, "stroke": "#000000", "strokeWidth": 0.8, "opacity": 1, "yOffset": 7},
"encoding": {
"x": {"field": "s", "type": "quantitative", "scale": {"domain": [0, 300], "nice": false, "zero": false},
"axis": {"orient": "bottom", "values": [0.4, 60.4, 120.4, 180.4, 240.4], "grid": true, "gridColor": "#FF4500", "gridDash": [6, 6.834], "gridDashOffset": 8.5, "gridWidth": 1.2, "gridOpacity": 1, "domain": false, "ticks": false, "labels": false, "title": null}},
"y": {"field": "r", "type": "quantitative", "scale": {"domain": [0, 288], "reverse": true, "nice": false, "zero": false}},
"fill": {"field": "t", "type": "nominal", "legend": null,
"scale": {"domain": ["VT","LP","BQ","HB","TR","TI","EX","SM","TO","AV","IC","CA","IF","SD","ZZ","CN","RY","TL","RE","DS"],
"range": ["#FF0000","#FFFF00","#EEE8AA","#FF7F00","#1E90FF","#00FFFF","#8B008B","#EEAAEE","#FFA500","#1F7F5F","#D9D9D9","#4A2A4A","#FF00FF","#32CD32","#8A2BE2","#503050","#503050","#0000FF","#696969","#D2B48C"]}}
}
},
{
"data": {"values": [{"l": "GM1N\u00a0\u00a0\u00a0\u00a0\u00a02023/06/26 00:00\u00a0\u00a0\u00a0\u00a0\u00a0\u00a0(1)\u00a0\u00a0\u00a0\u00a0[35000]\u00a0\u00a0(R)"}]},
"mark": {"type": "text", "align": "center", "baseline": "middle", "font": "Liberation Serif", "fontSize": 16, "color": "#0000FF"},
"encoding": {
"x": {"datum": 157.7, "type": "quantitative", "scale": {"domain": [0, 300], "nice": false, "zero": false}, "axis": null},
"y": {"datum": -2.9, "type": "quantitative", "scale": {"domain": [0, 288], "reverse": true, "nice": false, "zero": false}},
"text": {"field": "l"}
}
},
{
"data": {"values": [{"l": "Sismos Volcánicos"}]},
"mark": {"type": "text", "align": "center", "baseline": "middle", "font": "Liberation Serif", "fontSize": 15, "fontWeight": "bold", "color": "#000000"},
"encoding": {
"x": {"datum": 17.5, "type": "quantitative", "scale": {"domain": [0, 300], "nice": false, "zero": false}, "axis": null},
"y": {"datum": 304.4, "type": "quantitative", "scale": {"domain": [0, 288], "reverse": true, "nice": false, "zero": false}},
"text": {"field": "l"}
}
},
{
"data": {"values": [{"l": "Sismos No Volcánicos"}]},
"mark": {"type": "text", "align": "center", "baseline": "middle", "font": "Liberation Serif", "fontSize": 15, "fontWeight": "bold", "color": "#000000"},
"encoding": {
"x": {"datum": 283.1, "type": "quantitative", "scale": {"domain": [0, 300], "nice": false, "zero": false}, "axis": null},
"y": {"datum": 304.4, "type": "quantitative", "scale": {"domain": [0, 288], "reverse": true, "nice": false, "zero": false}},
"text": {"field": "l"}
}
}
]
},
{
"data": {"name": "legV"},
"layer": [
{
"mark": {"type": "point", "shape": "circle", "filled": true, "size": 110, "stroke": "#000000", "strokeWidth": 0.8, "opacity": 1},
"encoding": {
"x": {"field": "c", "type": "nominal", "sort": null, "scale": {"type": "point", "domain": ["VT","LP","BQ","HB","TR","TI","EX","SM","TO","AV","IC","CA","IF","SD"], "range": [32.3, 422.5], "padding": 0}, "axis": null},
"y": {"datum": 305.97, "type": "quantitative", "scale": {"domain": [0, 288], "reverse": true, "nice": false, "zero": false}},
"fill": {"field": "c", "type": "nominal", "legend": null}
}
},
{
"mark": {"type": "text", "align": "center", "baseline": "middle", "font": "Liberation Serif", "fontSize": 15, "color": "#000000"},
"encoding": {
"x": {"field": "c", "type": "nominal", "sort": null, "scale": {"type": "point", "domain": ["VT","LP","BQ","HB","TR","TI","EX","SM","TO","AV","IC","CA","IF","SD"], "range": [32.3, 422.5], "padding": 0}, "axis": null},
"y": {"datum": 307.6, "type": "quantitative", "scale": {"domain": [0, 288], "reverse": true, "nice": false, "zero": false}},
"text": {"field": "c"}
}
}
]
},
{
"data": {"name": "legN"},
"layer": [
{
"mark": {"type": "point", "shape": "circle", "filled": true, "size": 100, "stroke": "#000000", "strokeWidth": 0.8, "opacity": 1},
"encoding": {
"x": {"field": "c", "type": "nominal", "sort": null, "scale": {"type": "point", "domain": ["ZZ","CN","RY","TL","RE","DS"], "range": [1711.9, 1862.1], "padding": 0}, "axis": null},
"y": {"datum": 305.97, "type": "quantitative", "scale": {"domain": [0, 288], "reverse": true, "nice": false, "zero": false}},
"fill": {"field": "c", "type": "nominal", "legend": null}
}
},
{
"mark": {"type": "text", "align": "center", "baseline": "middle", "font": "Liberation Serif", "fontSize": 15, "color": "#000000"},
"encoding": {
"x": {"field": "c", "type": "nominal", "sort": null, "scale": {"type": "point", "domain": ["ZZ","CN","RY","TL","RE","DS"], "range": [1711.9, 1862.1], "padding": 0}, "axis": null},
"y": {"datum": 307.6, "type": "quantitative", "scale": {"domain": [0, 288], "reverse": true, "nice": false, "zero": false}},
"text": {"field": "c"}
}
}
]
}
],
"resolve": {"scale": {"x": "independent"}}
}
